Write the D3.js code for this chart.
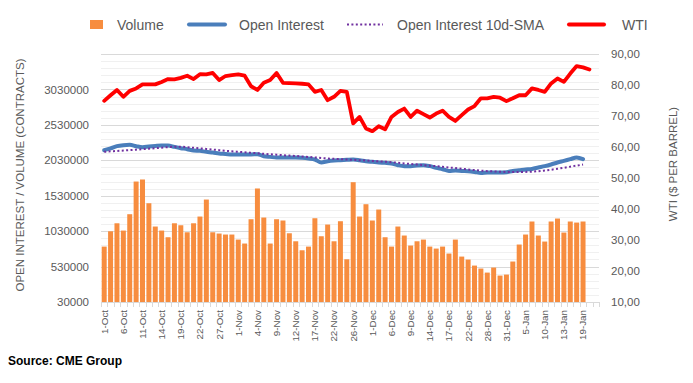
<!DOCTYPE html>
<html>
<head>
<meta charset="utf-8">
<script src="https://cdn.jsdelivr.net/npm/d3@7"></script>
<style>
  html, body { margin: 0; padding: 0; background: #ffffff; }
  svg { display: block; }
  text { font-family: "Liberation Sans", Arial, sans-serif; }
</style>
</head>
<body>
<svg id="chart" width="693" height="383"></svg>
<script>
const categories = [
  "1-Oct","4-Oct","5-Oct","6-Oct","7-Oct","8-Oct","11-Oct","12-Oct","13-Oct","14-Oct","15-Oct","18-Oct","19-Oct","20-Oct","21-Oct","22-Oct","25-Oct","26-Oct","27-Oct","28-Oct","29-Oct",
  "1-Nov","2-Nov","3-Nov","4-Nov","5-Nov","8-Nov","9-Nov","10-Nov","11-Nov","12-Nov","15-Nov","16-Nov","17-Nov","18-Nov","19-Nov","22-Nov","23-Nov","24-Nov","26-Nov","29-Nov","30-Nov",
  "1-Dec","2-Dec","3-Dec","6-Dec","7-Dec","8-Dec","9-Dec","10-Dec","13-Dec","14-Dec","15-Dec","16-Dec","17-Dec","20-Dec","21-Dec","22-Dec","23-Dec","27-Dec","28-Dec","29-Dec","30-Dec","31-Dec",
  "3-Jan","4-Jan","5-Jan","6-Jan","7-Jan","10-Jan","11-Jan","12-Jan","13-Jan","14-Jan","18-Jan","19-Jan","20-Jan","21-Jan"
];

const volume = [
  812000,1028000,1141000,1038000,1269000,1730000,1759000,1424000,1095000,1038000,
  944000,1141000,1113000,1014000,1141000,1236000,1476000,1014000,996000,982000,
  982000,911000,855000,1198000,1632000,1222000,855000,1198000,1180000,1000000,
  887000,760000,812000,1212000,958000,1123000,887000,1170000,633000,1721000,
  1236000,1410000,1180000,1335000,944000,812000,1095000,968000,827000,887000,
  911000,812000,784000,812000,714000,911000,671000,629000,544000,502000,
  445000,516000,403000,417000,601000,841000,982000,1166000,968000,883000,
  1166000,1208000,1010000,1166000,1151000,1166000
];

const openInterest = [
  2173000,2197000,2229000,2243000,2248000,2229000,2215000,2225000,2233000,2239000,
  2239000,2219000,2201000,2187000,2168000,2163000,2149000,2140000,2126000,2120000,
  2112000,2112000,2112000,2112000,2116000,2088000,2078000,2069000,2069000,2069000,
  2069000,2064000,2055000,2041000,1999000,2017000,2027000,2031000,2036000,2041000,
  2031000,2017000,2008000,1999000,1994000,1985000,1961000,1947000,1947000,1957000,
  1961000,1947000,1923000,1904000,1880000,1886000,1880000,1876000,1866000,1852000,
  1857000,1857000,1857000,1862000,1880000,1890000,1900000,1908000,1928000,1947000,
  1971000,1999000,2022000,2046000,2069000,2046000
];

const oiSma = [
  2149000,2156000,2161000,2168000,2174000,2180000,2187000,2194000,2201000,2208000,
  2215000,2221000,2221000,2215000,2206000,2198000,2190000,2181000,2173000,2164000,
  2157000,2150000,2143000,2136000,2129000,2122000,2115000,2109000,2102000,2096000,
  2091000,2084000,2077000,2070000,2062000,2055000,2050000,2046000,2041000,2037000,
  2031000,2027000,2021000,2016000,2010000,2003000,1995000,1986000,1978000,1971000,
  1962000,1954000,1947000,1938000,1928000,1920000,1911000,1901000,1892000,1884000,
  1877000,1873000,1869000,1866000,1865000,1865000,1866000,1870000,1876000,1886000,
  1897000,1910000,1924000,1940000,1955000,1969000
];

const wti = [
  74.9,76.7,78.4,76.2,78.1,78.9,80.2,80.2,80.2,81.0,
  81.9,81.8,82.3,83.0,81.9,83.5,83.4,83.9,81.6,82.9,
  83.2,83.4,83.0,79.6,78.4,80.7,81.6,83.9,80.7,80.6,
  80.5,80.4,80.2,77.8,78.4,75.1,76.2,78.1,77.8,67.6,
  69.7,66.0,65.1,66.7,65.7,69.7,71.3,72.4,69.7,71.7,
  70.6,69.5,70.8,71.7,69.7,68.4,70.3,72.1,73.2,75.7,
  75.7,76.2,75.9,74.8,75.7,76.7,76.7,78.9,78.4,77.8,
  80.5,82.1,81.0,83.7,86.1,85.7,85.0
];

const leftTicks = [30000,530000,1030000,1530000,2030000,2530000,3030000];
const rightTicks = [10,20,30,40,50,60,70,80,90];

const legendItems = ["Volume","Open Interest","Open Interest 10d-SMA","WTI"];

const svg = d3.select("#chart");
const plot = {left: 101, right: 599, top: 54, bottom: 302};

const x = d3.scaleBand().domain(categories).range([plot.left, plot.right])
  .paddingInner(0.22).paddingOuter(0.11);
const xc = d => x(d) + x.bandwidth() / 2;
const yL = d3.scaleLinear().domain([30000, 3530000]).range([plot.bottom, plot.top]);
const yR = d3.scaleLinear().domain([10, 90]).range([plot.bottom, plot.top]);

// minor gridlines
const minor = d3.range(30000, 3530001, 100000);
svg.append("g").selectAll("line").data(minor).join("line")
  .attr("x1", plot.left).attr("x2", plot.right)
  .attr("y1", d => Math.round(yL(d)) + 0.5).attr("y2", d => Math.round(yL(d)) + 0.5)
  .attr("stroke", "#f0f0f0").attr("stroke-width", 1);
// major gridlines
svg.append("g").selectAll("line").data(leftTicks.concat([3530000])).join("line")
  .attr("x1", plot.left).attr("x2", plot.right)
  .attr("y1", d => Math.round(yL(d)) + 0.5).attr("y2", d => Math.round(yL(d)) + 0.5)
  .attr("stroke", "#d9d9d9").attr("stroke-width", 1);

// bars
svg.append("g").selectAll("rect").data(volume).join("rect")
  .attr("x", (d, i) => x(categories[i]))
  .attr("width", x.bandwidth())
  .attr("y", d => yL(d))
  .attr("height", d => yL(30000) - yL(d))
  .attr("fill", "#f78d3f");

// x axis
const xAxis = d3.axisBottom(x)
  .tickValues(categories.filter((c, i) => i % 3 === 0 && i <= 75))
  .tickSize(0).tickPadding(0);
svg.append("line")
  .attr("x1", plot.left).attr("x2", plot.right)
  .attr("y1", plot.bottom + 0.5).attr("y2", plot.bottom + 0.5)
  .attr("stroke", "#d9d9d9");
svg.append("g").selectAll("line").data(d3.range(categories.length + 1)).join("line")
  .attr("x1", i => Math.round(plot.left + i * (plot.right - plot.left) / categories.length) + 0.5)
  .attr("x2", i => Math.round(plot.left + i * (plot.right - plot.left) / categories.length) + 0.5)
  .attr("y1", plot.bottom).attr("y2", plot.bottom + 5)
  .attr("stroke", "#d9d9d9");
const gx = svg.append("g").attr("transform", `translate(0,${plot.bottom})`).call(xAxis);
gx.select(".domain").remove();
gx.selectAll(".tick text")
  .attr("transform", "rotate(-90)")
  .attr("text-anchor", "end")
  .attr("x", -8).attr("y", 0).attr("dy", "0.35em")
  .style("font-size", "9.8px")
  .attr("fill", "#595959");

// left axis
const gl = svg.append("g").attr("transform", `translate(${plot.left - 12},0)`)
  .call(d3.axisLeft(yL).tickValues(leftTicks).tickSize(0).tickPadding(0).tickFormat(d => String(d)));
gl.select(".domain").remove();
gl.selectAll(".tick text").style("font-size", "11.5px").attr("fill", "#595959");

// right axis
const gr = svg.append("g").attr("transform", `translate(${plot.right + 12},0)`)
  .call(d3.axisRight(yR).tickValues(rightTicks).tickSize(0).tickPadding(0)
    .tickFormat(d => d3.format(".2f")(d).replace(".", ",")));
gr.select(".domain").remove();
gr.selectAll(".tick text").style("font-size", "11.5px").attr("fill", "#595959");

// lines
const lineOI = d3.line().x((d, i) => xc(categories[i])).y(d => yL(d)).curve(d3.curveMonotoneX);
svg.append("path").datum(openInterest).attr("d", lineOI)
  .attr("fill", "none").attr("stroke", "#4a7ebb").attr("stroke-width", 4)
  .attr("stroke-linejoin", "round").attr("stroke-linecap", "round");
svg.append("path").datum(oiSma).attr("d", lineOI)
  .attr("fill", "none").attr("stroke", "#7030a0").attr("stroke-width", 2)
  .attr("stroke-dasharray", "2,2.4");
const lineW = d3.line().x((d, i) => xc(categories[i])).y(d => yR(d));
svg.append("path").datum(wti).attr("d", lineW)
  .attr("fill", "none").attr("stroke", "#ff0000").attr("stroke-width", 3.8)
  .attr("stroke-linejoin", "round").attr("stroke-linecap", "round");

// axis titles
svg.append("text")
  .attr("transform", "translate(24,175) rotate(-90)")
  .attr("text-anchor", "middle")
  .style("font-size", "11.5px").attr("fill", "#595959")
  .text("OPEN INTEREST / VOLUME (CONTRACTS)");
svg.append("text")
  .attr("transform", "translate(677,164) rotate(-90)")
  .attr("text-anchor", "middle")
  .style("font-size", "11.5px").attr("fill", "#595959")
  .text("WTI ($ PER BARREL)");

// legend
const lg = svg.append("g");
lg.append("rect").attr("x", 90).attr("y", 20).attr("width", 13).attr("height", 9).attr("fill", "#f78d3f");
lg.append("line").attr("x1", 189).attr("x2", 225).attr("y1", 24.5).attr("y2", 24.5)
  .attr("stroke", "#4a7ebb").attr("stroke-width", 4).attr("stroke-linecap", "round");
lg.append("line").attr("x1", 347).attr("x2", 383).attr("y1", 24.5).attr("y2", 24.5)
  .attr("stroke", "#7030a0").attr("stroke-width", 2).attr("stroke-dasharray", "2,2.4");
lg.append("line").attr("x1", 569).attr("x2", 604).attr("y1", 24.5).attr("y2", 24.5)
  .attr("stroke", "#ff0000").attr("stroke-width", 4).attr("stroke-linecap", "round");
const lx = [117, 239, 397, 622];
lg.selectAll("text").data(legendItems).join("text")
  .attr("x", (d, i) => lx[i]).attr("y", 29.5)
  .style("font-size", "14px").attr("fill", "#595959")
  .text(d => d);

// source
svg.append("text").attr("x", 8).attr("y", 365)
  .style("font-size", "12px").style("font-weight", "bold").attr("fill", "#000")
  .text("Source: CME Group");
</script>
</body>
</html>
